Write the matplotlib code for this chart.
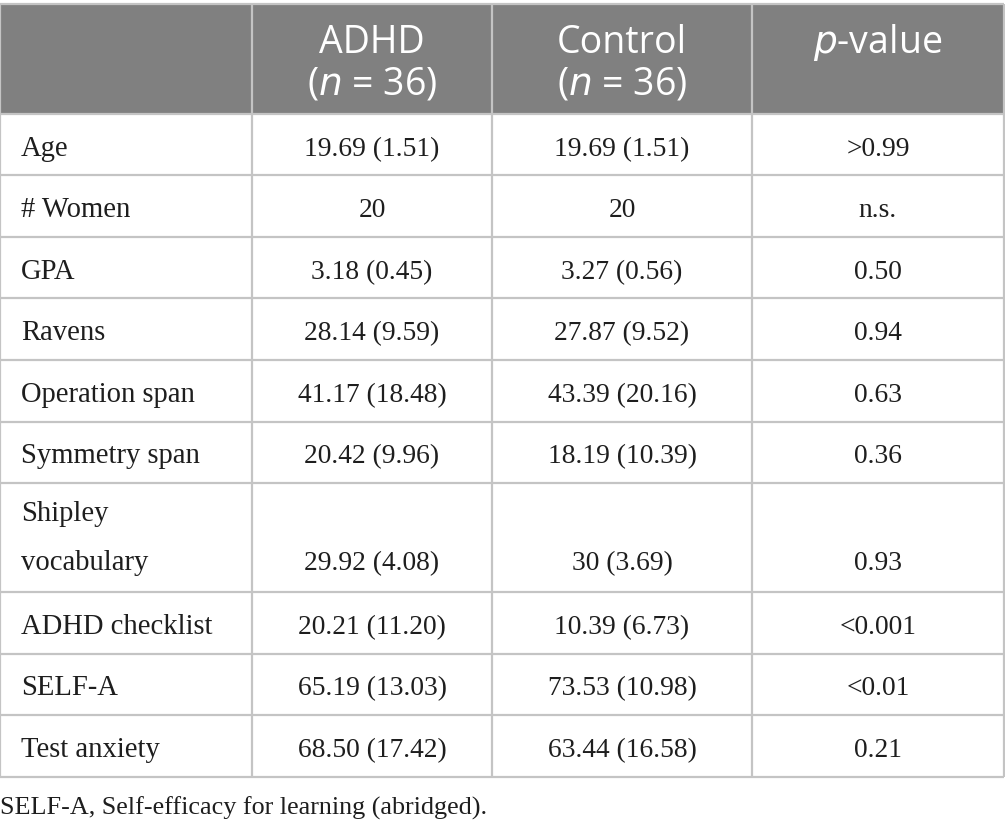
import matplotlib.pyplot as plt

# table contents
headers = ["", "ADHD\n($n$ = 36)", "Control\n($n$ = 36)", "$p$-value"]
row_labels = ["Age", "# Women", "GPA", "Ravens", "Operation span", "Symmetry span",
              "Shipley\nvocabulary", "ADHD checklist", "SELF-A", "Test anxiety"]
adhd_vals = ["19.69 (1.51)", "20", "3.18 (0.45)", "28.14 (9.59)", "41.17 (18.48)",
             "20.42 (9.96)", "29.92 (4.08)", "20.21 (11.20)", "65.19 (13.03)", "68.50 (17.42)"]
control_vals = ["19.69 (1.51)", "20", "3.27 (0.56)", "27.87 (9.52)", "43.39 (20.16)",
                "18.19 (10.39)", "30 (3.69)", "10.39 (6.73)", "73.53 (10.98)", "63.44 (16.58)"]
p_vals = [">0.99", "n.s.", "0.50", "0.94", "0.63", "0.36", "0.93", "<0.001", "<0.01", "0.21"]
footnote = "SELF-A, Self-efficacy for learning (abridged)."

W, H = 1005, 830
fig = plt.figure(figsize=(W / 100, H / 100), dpi=100)
ax = fig.add_axes([0, 0, 1, 1])
ax.set_xlim(0, W)
ax.set_ylim(H, 0)
ax.axis("off")

col_x = [0, 252, 492, 752, 1004]
top, head_bot = 4, 114
row_h = 61.5
line_col = "#c4c4c4"
txt_col = "#1e1e1e"
serif = ["Liberation Serif", "DejaVu Serif"]
sans = ["Open Sans", "DejaVu Sans"]
fs_body = 19.8
fs_label = 20.6
fs_head = 27

# header band
ax.add_patch(plt.Rectangle((col_x[0], top), col_x[-1] - col_x[0], head_bot - top,
                           facecolor="#808080", edgecolor="none"))
for i, h in enumerate(headers):
    if not h:
        continue
    cx = (col_x[i] + col_x[i + 1]) / 2
    for k, line in enumerate(h.split("\n")):
        ax.text(cx, 53 + 41 * k, line, ha="center", va="baseline", color="white",
                fontsize=fs_head, family=sans)

# body rows
y_edges = [head_bot]
for lab in row_labels:
    y_edges.append(y_edges[-1] + (109 if "\n" in lab else row_h))

for r, lab in enumerate(row_labels):
    y0, y1 = y_edges[r], y_edges[r + 1]
    if "\n" in lab:
        a, b = lab.split("\n")
        yv = y1 - 22
        ax.text(21, yv - 49, a, ha="left", va="baseline", fontsize=fs_label, family=serif, color=txt_col)
        ax.text(21, yv, b, ha="left", va="baseline", fontsize=fs_label, family=serif, color=txt_col)
    else:
        yv = (y0 + y1) / 2 + 11
        ax.text(21, yv, lab, ha="left", va="baseline", fontsize=fs_label, family=serif, color=txt_col)
    for c, vals in enumerate([adhd_vals, control_vals, p_vals]):
        cx = (col_x[c + 1] + col_x[c + 2]) / 2
        ax.text(cx, yv, vals[r], ha="center", va="baseline", fontsize=fs_body,
                family=serif, color=txt_col)

# grid lines
for y in [top] + y_edges:
    ax.plot([col_x[0], col_x[-1]], [y, y], color=line_col, lw=1.6, solid_capstyle="butt")
for x in col_x:
    ax.plot([x, x], [top, y_edges[-1]], color=line_col, lw=1.6, solid_capstyle="butt")

ax.text(0, 815, footnote, ha="left", va="baseline", fontsize=18.8, family=serif, color=txt_col)

fig.savefig("out.png", dpi=100)
